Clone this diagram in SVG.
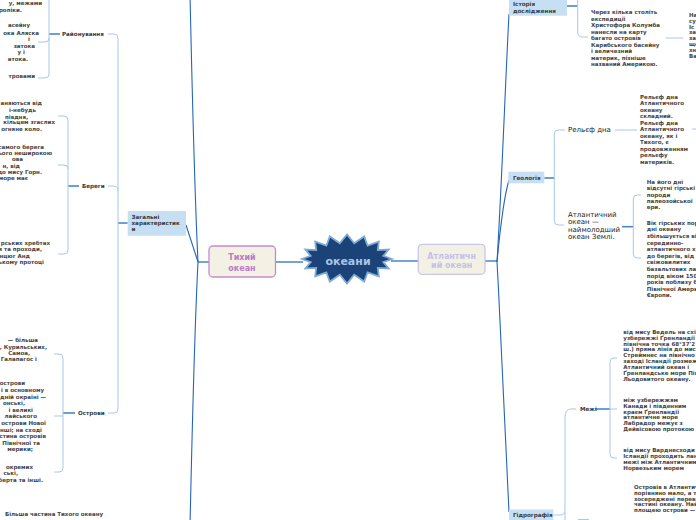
<svg xmlns="http://www.w3.org/2000/svg" width="696" height="520" viewBox="0 0 696 520">
<style>
.t{font-family:"DejaVu Sans",Verdana,sans-serif;font-size:5.5px;font-weight:bold;fill:#444}
.e{text-anchor:end}
.lbl{font-family:"DejaVu Sans",Verdana,sans-serif;font-size:5.6px;font-weight:bold;fill:#3a3a3a}
.big{font-family:"DejaVu Sans",Verdana,sans-serif;font-size:7px;fill:#222}
.box{fill:#c6dff2}
.br{fill:none;stroke:#a6c8ea;stroke-width:1}
.dk{fill:none;stroke:#4a86c8;stroke-width:1.6}
.main{fill:none;stroke:#2566b3;stroke-width:1.1}
</style>
<rect width="696" height="520" fill="#ffffff"/>
<g id="connectors">
<path class="dk" d="M209,262 H198 M275.7,262 H303 M391,261 H418.3 M485,261 H497"/>
<path class="main" d="M198,262 C194,180 192,80 190,-5"/>
<path class="main" d="M198,262 C194,340 192,440 190,525"/>
<path class="main" d="M198,262 L186,225"/>
<path class="main" d="M497,262 C502,180 505,90 509,14"/>
<path class="main" d="M497,262 C500,230 503,200 509,180"/>
<path class="main" d="M497,262 C502,350 505,440 509,512"/>
<path class="dk" d="M127.7,223 H118"/>
<path class="br" d="M108,34 H114 Q118,34 118,38 V409 Q118,413 114,413 H108"/>
<path class="br" d="M108,186 H113 Q118,186 118,191"/>
<path class="dk" d="M60,34 H49"/>
<path class="br" d="M49,-20 V74 Q49,78 45,78 H38"/>
<path class="br" d="M38,42 H45 Q49,42 49,38"/>
<path class="dk" d="M79,186 H68"/>
<path class="br" d="M58,116 H64 Q68,116 68,120 V250 Q68,254 64,254 H58"/>
<path class="br" d="M58,165 H64 Q68,165 68,169"/>
<path class="dk" d="M75,413 H63"/>
<path class="br" d="M54,354 H59 Q63,354 63,358 V468 Q63,472 59,472 H54"/>
<path class="br" d="M54,416 H63"/>
<path class="dk" d="M567,6 H577.7"/>
<path class="br" d="M577.7,-20 V32 Q577.7,37 582.7,37 H588"/>
<path class="br" d="M665.5,38 H683"/>
<path class="dk" d="M544.3,178 H554.3"/>
<path class="br" d="M565,130 H558.3 Q554.3,130 554.3,134 V221 Q554.3,225 558.3,225 H564"/>
<path class="br" d="M615,130 H637"/>
<path class="br" d="M692,129 H696"/>
<path class="dk" d="M622,226.7 H633.3"/>
<path class="br" d="M641,195 H637.3 Q633.3,195 633.3,199 V254 Q633.3,258 637.3,258 H641"/>
<path class="br" d="M553.3,515 H560 Q565,515 565,510 V417 Q565,409 571,409 H576"/>
<path class="br" d="M565,512 V522"/>
<path class="br" d="M578,519.5 H589"/>
<path class="dk" d="M595,409 H610"/>
<path class="br" d="M617,358 H614 Q610,358 610,362 V454 Q610,458 614,458 H617"/>
<path class="br" d="M610,409 H617"/>
</g>

<g id="root">
<polygon points="392,259 383.3,255.9 388.6,249.6 377.8,250.1 378.8,241.7 367.6,245.7 364.2,236.4 354.2,243.3 347,234.5 339.8,243.3 329.8,236.4 326.4,245.7 315.2,241.7 316.2,250.1 305.4,249.6 310.7,255.9 302,259 310.7,262.1 305.4,268.4 316.2,267.9 315.2,276.3 326.4,272.3 329.8,281.6 339.8,274.7 347,283.5 354.2,274.7 364.2,281.6 367.6,272.3 378.8,276.3 377.8,267.9 388.6,268.4 383.3,262.1" fill="#1b4377" stroke="#7eaad8" stroke-width="1.8" stroke-linejoin="miter"/>
<text x="348" y="264.5" text-anchor="middle" font-family="DejaVu Sans,Verdana,sans-serif" font-size="11" font-weight="bold" fill="#a9c5e8">океани</text>
</g>

<g id="pacific">
<rect x="209" y="246" width="66.5" height="31" rx="4" fill="#f3f0e4" stroke="#c58bd0" stroke-width="1.3"/>
<text x="242" y="260" text-anchor="middle" font-family="DejaVu Sans,Verdana,sans-serif" font-size="8" font-weight="bold" fill="#b87cc4">Тихий</text>
<text x="242" y="270.5" text-anchor="middle" font-family="DejaVu Sans,Verdana,sans-serif" font-size="8" font-weight="bold" fill="#b87cc4">океан</text>
</g>

<g id="atlantic">
<rect x="418.3" y="244.3" width="66.7" height="30" rx="4" fill="#f3f0e4" stroke="#cbc5e8" stroke-width="1.3"/>
<text x="451.7" y="258.5" text-anchor="middle" font-family="DejaVu Sans,Verdana,sans-serif" font-size="8" font-weight="bold" fill="#c6bfe8">Атлантичн</text>
<text x="451.7" y="268" text-anchor="middle" font-family="DejaVu Sans,Verdana,sans-serif" font-size="8" font-weight="bold" fill="#c6bfe8">ий океан</text>
</g>

<g id="zahalni">
<rect class="box" x="127.7" y="211" width="58.3" height="24.7"/>
<text class="lbl" x="131.5" y="218.7">Загальні</text>
<text class="lbl" x="131.5" y="225">характеристик</text>
<text class="lbl" x="131.5" y="231.3">и</text>
</g>

<g id="raionuvannia"><text class="lbl" x="62" y="36">Районування</text></g>
<g id="berehy"><text class="lbl" x="82" y="188">Береги</text></g>
<g id="ostrovy"><text class="lbl" x="78" y="415.3">Острови</text></g>

<g id="raion-texts">
<text class="t e" x="42" y="5">у, межами</text>
<text class="t e" x="22" y="12">ропіки.</text>
<text class="t e" x="30" y="27">асейну</text>
<text class="t e" x="39" y="34.7">ока Аляска</text>
<text class="t e" x="30" y="41">і</text>
<text class="t e" x="35" y="47.7">затока</text>
<text class="t e" x="25" y="54">у і</text>
<text class="t e" x="28" y="61">атока.</text>
<text class="t e" x="35" y="77.7">тровами</text>
</g>

<g id="berehy-texts">
<text class="t e" x="42" y="105.3">аняються від</text>
<text class="t e" x="36" y="112">і-небудь</text>
<text class="t e" x="28" y="118.7">півдня,</text>
<text class="t e" x="55" y="124.3">кільцем згаслих</text>
<text class="t e" x="42" y="131">огняне коло.</text>
<text class="t e" x="44" y="148.7">самого берега</text>
<text class="t e" x="52" y="155">ього неширокою</text>
<text class="t e" x="23" y="161.3">ова</text>
<text class="t e" x="20" y="167.6">н, від</text>
<text class="t e" x="42" y="173.9">до мису Горн.</text>
<text class="t e" x="28" y="180.2">море має</text>
<text class="t e" x="50" y="244.7">рських хребтах</text>
<text class="t e" x="42" y="251">я та проходи,</text>
<text class="t e" x="30" y="257.7">нцюг Анд</text>
<text class="t e" x="44" y="264.3">ському протоці</text>
</g>

<g id="ostrovy-texts">
<text class="t e" x="38" y="342">— більша</text>
<text class="t e" x="47" y="348.5">, Курильських,</text>
<text class="t e" x="30" y="354.5">Самоа,</text>
<text class="t e" x="37" y="360.5">Галапагос і</text>
<text class="t e" x="25" y="385.3">острови</text>
<text class="t e" x="44" y="391.9">і в основному</text>
<text class="t e" x="46" y="398.5">дній окраїні —</text>
<text class="t e" x="25" y="405.1">онські,</text>
<text class="t e" x="33" y="411.7">і великі</text>
<text class="t e" x="37" y="418.3">лайського</text>
<text class="t e" x="46" y="424.9">острови Нової</text>
<text class="t e" x="42" y="431.5">інші; на сході</text>
<text class="t e" x="46" y="438.1">стина островів</text>
<text class="t e" x="40" y="444.7">Північної та</text>
<text class="t e" x="33" y="451.3">мерики;</text>
<text class="t e" x="33" y="468.7">окремих</text>
<text class="t e" x="18" y="475.2">ські,</text>
<text class="t e" x="43" y="481.7">ьберта та інші.</text>
</g>

<g id="bottom-text">
<text class="t" x="5" y="516">Більша частина Тихого океану</text>
</g>

<g id="istoriia">
<rect class="box" x="509" y="-5" width="58" height="20.7"/>
<text class="lbl" x="513" y="6">Історія</text>
<text class="lbl" x="513" y="12.7">дослідження</text>
</g>
<g id="kolumb">
<text class="t" x="591" y="14.3">Через кілька століть</text>
<text class="t" x="591" y="20.8">експедиції</text>
<text class="t" x="591" y="27.2">Христофора Колумба</text>
<text class="t" x="591" y="33.7">нанесли на карту</text>
<text class="t" x="591" y="40.1">багато островів</text>
<text class="t" x="591" y="46.6">Карибського басейну</text>
<text class="t" x="591" y="53">і величезний</text>
<text class="t" x="591" y="59.5">материк, пізніше</text>
<text class="t" x="591" y="66">названий Америкою.</text>
</g>
<g id="far-right">
<text class="t" x="689" y="17">На</text>
<text class="t" x="689" y="22.7">су</text>
<text class="t" x="689" y="28.7">Іс</text>
<text class="t" x="689" y="34.3">за</text>
<text class="t" x="689" y="40.3">за</text>
<text class="t" x="689" y="46.3">що</text>
<text class="t" x="689" y="52">зн</text>
<text class="t" x="689" y="58">Ва</text>
</g>

<g id="heolohiia">
<rect class="box" x="508.3" y="171.7" width="36" height="11.6"/>
<text class="lbl" x="513" y="180.2">Геологія</text>
</g>
<g id="relief">
<text class="big" x="568" y="132">Рельєф дна</text>
</g>
<g id="relief-text">
<text class="t" x="640" y="98.7">Рельєф дна</text>
<text class="t" x="640" y="105.2">Атлантичного</text>
<text class="t" x="640" y="111.7">океану</text>
<text class="t" x="640" y="118.2">складний.</text>
<text class="t" x="640" y="124.7">Рельєф дна</text>
<text class="t" x="640" y="131.2">Атлантичного</text>
<text class="t" x="640" y="137.7">океану, як і</text>
<text class="t" x="640" y="144.2">Тихого, є</text>
<text class="t" x="640" y="150.7">продовженням</text>
<text class="t" x="640" y="157.2">рельєфу</text>
<text class="t" x="640" y="163.7">материків.</text>
</g>
<g id="youngest">
<text class="big" x="568" y="216.8">Атлантичний</text>
<text class="big" x="568" y="224.2">океан —</text>
<text class="big" x="568" y="231.6">наймолодший</text>
<text class="big" x="568" y="239">океан Землі.</text>
</g>
<g id="paleo">
<text class="t" x="646.7" y="183.7">На його дні</text>
<text class="t" x="646.7" y="190.1">відсутні гірські</text>
<text class="t" x="646.7" y="196.5">породи</text>
<text class="t" x="646.7" y="202.9">палеозойської</text>
<text class="t" x="646.7" y="209.3">ери.</text>
</g>
<g id="age">
<text class="t" x="646.7" y="224.7">Вік гірських пор</text>
<text class="t" x="646.7" y="231.3">дні океану</text>
<text class="t" x="646.7" y="237.9">збільшується ві</text>
<text class="t" x="646.7" y="244.5">серединно-</text>
<text class="t" x="646.7" y="251.1">атлантичного хр</text>
<text class="t" x="646.7" y="257.7">до берегів, від</text>
<text class="t" x="646.7" y="264.3">свіжовилитих</text>
<text class="t" x="646.7" y="270.9">базальтових ла</text>
<text class="t" x="646.7" y="277.5">порід віком 150</text>
<text class="t" x="646.7" y="284.1">років поблизу б</text>
<text class="t" x="646.7" y="290.7">Північної Амери</text>
<text class="t" x="646.7" y="297.3">Європи.</text>
</g>

<g id="mezhi"><text class="lbl" x="580" y="411.3">Межі</text></g>
<g id="mezhi-1">
<text class="t" x="623.3" y="333.7">від мису Ведель на схі</text>
<text class="t" x="623.3" y="339.6">узбережжі Ґренландії</text>
<text class="t" x="623.3" y="345.5">північна точка 68°37'2</text>
<text class="t" x="623.3" y="351.4">ш.) пряма лінія до мис</text>
<text class="t" x="623.3" y="357.3">Стреймнес на північно</text>
<text class="t" x="623.3" y="363.2">заході Ісландії розмеж</text>
<text class="t" x="623.3" y="369.1">Атлантичний океан і</text>
<text class="t" x="623.3" y="375">Ґренландське море Пів</text>
<text class="t" x="623.3" y="380.9">Льодовитого океану.</text>
</g>
<g id="mezhi-2">
<text class="t" x="623.3" y="402">між узбережжям</text>
<text class="t" x="623.3" y="407.8">Канади і південним</text>
<text class="t" x="623.3" y="413.6">краєм Ґренландії</text>
<text class="t" x="623.3" y="419.4">атлантичне море</text>
<text class="t" x="623.3" y="425.2">Лабрадор межує з</text>
<text class="t" x="623.3" y="431">Дейвісовою протокою</text>
</g>
<g id="mezhi-3">
<text class="t" x="623.3" y="452">від мису Варднесходи</text>
<text class="t" x="623.3" y="457.9">Ісландії проходить лан</text>
<text class="t" x="623.3" y="463.8">межі між Атлантичним</text>
<text class="t" x="623.3" y="469.7">Норвезьким морем</text>
</g>
<g id="islands-atl">
<text class="t" x="634" y="488.7">Островів в Атлантич</text>
<text class="t" x="634" y="494.6">порівняно мало, а т</text>
<text class="t" x="634" y="500.5">зосереджені переваж</text>
<text class="t" x="634" y="506.4">частині океану. Най</text>
<text class="t" x="634" y="512.3">площею острови —</text>
</g>

<g id="hidrohrafiia">
<rect class="box" x="509" y="509.5" width="44.3" height="12"/>
<text class="lbl" x="513" y="517">Гідрографія</text>
</g>
</svg>
